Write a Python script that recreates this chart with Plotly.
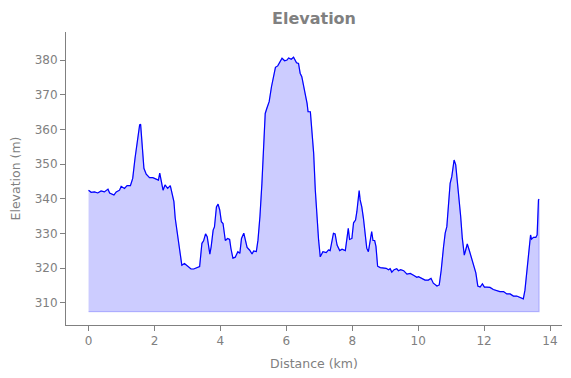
import plotly.graph_objects as go

distance_km = [
    0.00, 0.08, 0.18, 0.28, 0.38, 0.48, 0.59, 0.64, 0.77, 0.84, 0.94, 0.99, 1.09, 1.17, 1.27,
    1.34, 1.41, 1.47, 1.55, 1.58, 1.62, 1.68, 1.75, 1.85, 1.95, 2.05, 2.12, 2.16, 2.20, 2.26,
    2.32, 2.40, 2.48, 2.53, 2.59, 2.63, 2.69, 2.76, 2.83, 2.91, 3.01, 3.11, 3.19, 3.29, 3.37,
    3.44, 3.49, 3.55, 3.60, 3.68, 3.72, 3.78, 3.82, 3.88, 3.93, 3.98, 4.03, 4.08, 4.15, 4.22,
    4.28, 4.32, 4.38, 4.45, 4.53, 4.59, 4.64, 4.71, 4.76, 4.81, 4.89, 4.96, 5.01, 5.09, 5.14,
    5.20, 5.26, 5.31, 5.36, 5.41, 5.48, 5.55, 5.62, 5.67, 5.74, 5.79, 5.87, 5.95, 6.02, 6.07,
    6.15, 6.22, 6.27, 6.31, 6.37, 6.42, 6.47, 6.52, 6.58, 6.63, 6.66, 6.73, 6.78, 6.83, 6.88,
    6.93, 6.98, 7.03, 7.11, 7.21, 7.28, 7.33, 7.38, 7.43, 7.48, 7.54, 7.62, 7.69, 7.79, 7.84,
    7.88, 7.92, 7.99, 8.04, 8.10, 8.14, 8.17, 8.21, 8.24, 8.29, 8.34, 8.39, 8.44, 8.49, 8.55,
    8.59, 8.63, 8.68, 8.72, 8.77, 8.85, 8.95, 9.03, 9.10, 9.15, 9.20, 9.27, 9.35, 9.40, 9.47,
    9.56, 9.66, 9.76, 9.86, 9.96, 10.01, 10.11, 10.21, 10.31, 10.39, 10.46, 10.57, 10.64, 10.70,
    10.77, 10.82, 10.87, 10.92, 10.97, 11.02, 11.05, 11.09, 11.14, 11.19, 11.24, 11.29, 11.34,
    11.40, 11.44, 11.49, 11.55, 11.61, 11.68, 11.75, 11.81, 11.88, 11.95, 12.01, 12.08, 12.18,
    12.28, 12.38, 12.48, 12.59, 12.69, 12.79, 12.89, 12.99, 13.09, 13.19, 13.24, 13.31, 13.36,
    13.41, 13.44, 13.50, 13.57, 13.61, 13.65, 13.67,
]

elevation_m = [
    342.5, 341.9, 342.0, 341.7, 342.3, 342.0, 342.8, 341.7, 341.1, 342.0, 342.5, 343.6, 343.0, 343.8, 343.8,
    345.9, 351.7, 356.5, 361.3, 361.5, 355.5, 348.8, 347.1, 346.1, 346.1, 345.7, 345.4, 347.4, 345.4, 342.5,
    344.0, 343.0, 343.8, 342.0, 339.2, 334.4, 330.5, 326.7, 320.9, 321.4, 320.5, 319.8, 319.8, 320.1, 320.5,
    327.2, 327.9, 329.9, 329.1, 324.1, 326.2, 331.0, 331.9, 337.7, 338.5, 336.8, 333.4, 332.9, 328.0, 328.6,
    328.3, 325.7, 322.9, 323.2, 324.8, 324.3, 328.6, 330.1, 328.3, 326.0, 325.2, 324.1, 325.0, 324.8, 328.1,
    334.9, 344.5, 354.1, 364.6, 366.1, 368.0, 372.3, 375.7, 377.9, 378.3, 379.2, 380.5, 379.8, 380.0, 380.6,
    380.2, 380.8, 380.0, 379.2, 379.0, 376.2, 375.2, 372.3, 369.9, 367.5, 365.1, 365.1, 359.8, 353.1, 342.5,
    334.9, 328.1, 323.3, 324.8, 324.5, 325.3, 325.1, 327.7, 330.1, 329.9, 326.7, 325.1, 325.5, 325.1, 328.6,
    331.5, 328.3, 328.6, 333.1, 333.9, 336.3, 339.7, 342.4, 339.7, 337.7, 334.4, 330.1, 325.8, 324.8, 327.7,
    330.6, 328.0, 328.0, 326.3, 320.6, 320.2, 320.2, 320.0, 319.6, 319.9, 318.9, 319.6, 319.9, 319.3, 319.6,
    319.3, 318.3, 318.5, 318.0, 317.4, 317.6, 317.1, 316.6, 316.6, 317.1, 315.7, 314.9, 315.2, 319.5,
    326.2, 330.1, 332.0, 337.7, 344.5, 346.4, 348.8, 351.2, 349.8, 345.4, 339.7, 334.9, 328.6,
    323.8, 325.2, 327.0, 325.2, 323.3, 320.9, 318.7, 314.9, 314.6, 315.5, 314.6, 314.6, 314.5,
    313.9, 313.6, 313.3, 313.3, 312.6, 312.6, 312.0, 312.0, 311.6, 311.2, 313.7, 319.5, 324.3,
    329.6, 328.4, 328.9, 328.9, 329.6, 339.7, 339.9,
]

fill_base_m = 307.5

x_ticks = [0, 2, 4, 6, 8, 10, 12, 14]
y_ticks = [310, 320, 330, 340, 350, 360, 370, 380]

gray = "#808080"

fig = go.Figure()

# filled area polygon (with its own translucent edge)
poly_x = distance_km + [distance_km[-1], distance_km[0]]
poly_y = elevation_m + [fill_base_m, fill_base_m]
fig.add_trace(go.Scatter(
    x=poly_x, y=poly_y, mode="lines", fill="toself",
    fillcolor="rgba(0,0,255,0.2)",
    line=dict(color="rgba(0,0,255,0.2)", width=1.2),
    hoverinfo="skip", showlegend=False,
))

fig.add_trace(go.Scatter(
    x=distance_km, y=elevation_m, mode="lines",
    line=dict(color="#0000ff", width=1.2),
    showlegend=False,
))

axis_common = dict(
    showgrid=False, zeroline=False, showline=True, linecolor=gray, linewidth=1,
    ticks="outside", ticklen=5, tickwidth=1, tickcolor=gray, automargin=False,
    tickfont=dict(family="DejaVu Sans", size=12, color=gray),
)

fig.update_layout(
    width=571, height=378,
    margin=dict(l=66, r=9, t=32, b=53),
    plot_bgcolor="white", paper_bgcolor="white",
    title=dict(text="<b>Elevation</b>", x=0.5, xanchor="center", xref="paper",
               y=1 - 18 / 378, yref="container", yanchor="middle",
               font=dict(family="DejaVu Sans", size=16, color=gray)),
    xaxis=dict(range=[-0.684, 14.364], tickvals=x_ticks,
               title=dict(text="Distance (km)", standoff=11,
                          font=dict(family="DejaVu Sans", size=12.5, color=gray)),
               **axis_common),
    yaxis=dict(range=[303.66, 388.07], tickvals=y_ticks,
               title=dict(text="Elevation (m)", standoff=11,
                          font=dict(family="DejaVu Sans", size=12.5, color=gray)),
               **axis_common),
)

fig.write_html(
    "out.html",
    config={"displayModeBar": False},
    post_script="document.body.style.margin='0';document.body.style.overflow='hidden';",
)
